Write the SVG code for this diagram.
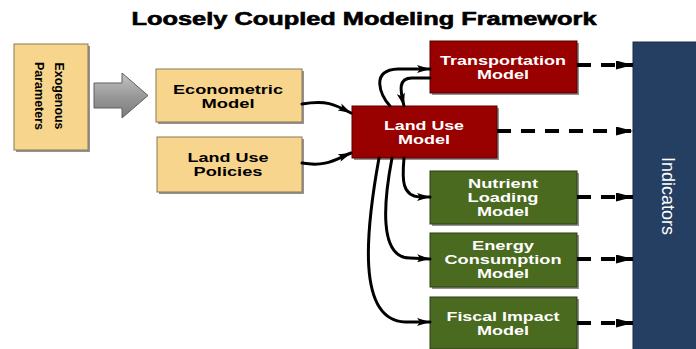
<svg xmlns="http://www.w3.org/2000/svg" width="696" height="349" viewBox="0 0 696 349">
  <defs>
    <style>
      .t { font-family: "Liberation Sans", Arial, sans-serif; font-weight: bold; font-size: 12.5px; text-anchor: middle; }
      .dk { fill: #000; }
      .lt { fill: #fff; }
      .shadow { fill: #3a3a3a; opacity: 0.55; }
      .tan { fill: #F8D58C; stroke: #8a7a55; stroke-width: 1; }
      .red { fill: #990000; stroke: #5a0000; stroke-width: 1; }
      .grn { fill: #4A6A1F; stroke: #2b3d12; stroke-width: 1; }
      .flow { fill: none; stroke: #000; stroke-width: 3; stroke-linecap: round; marker-end: url(#headS); }
      .dash { fill: none; stroke: #000; stroke-width: 4; stroke-dasharray: 14 10; marker-end: url(#headL); }
    </style>
    <marker id="headS" markerUnits="userSpaceOnUse" markerWidth="14" markerHeight="8" refX="13" refY="4" orient="auto">
      <path d="M0,0 L13,4 L0,8 L3,4 z" fill="#000"/>
    </marker>
    <marker id="headL" markerUnits="userSpaceOnUse" markerWidth="18" markerHeight="9" refX="17" refY="4.5" orient="auto">
      <path d="M0,0 L17,4.5 L0,9 z" fill="#000"/>
    </marker>
    <linearGradient id="arrowFill" x1="0" y1="0" x2="0" y2="1">
      <stop offset="0" stop-color="#c4c4c4"/>
      <stop offset="0.5" stop-color="#9a9a9a"/>
      <stop offset="1" stop-color="#7a7a7a"/>
    </linearGradient>
  </defs>

  <rect width="696" height="349" fill="#fff"/>

  <!-- heading -->
  <text x="364" y="25" font-family="'Liberation Sans', Arial, sans-serif" font-weight="bold" font-size="18" stroke="#000" stroke-width="0.6" text-anchor="middle" textLength="465" lengthAdjust="spacingAndGlyphs">Loosely Coupled Modeling Framework</text>

  <!-- indicators panel -->
  <g id="indicators">
    <rect x="633" y="42" width="66" height="310" fill="#243F61" stroke="#1a2d46" stroke-width="1"/>
    <text transform="translate(662,196) rotate(90)" font-family="'Liberation Sans', Arial, sans-serif" font-size="18" fill="#fff" text-anchor="middle">Indicators</text>
  </g>

  <!-- exogenous parameters -->
  <g id="exogenous">
    <rect class="shadow" x="16" y="46" width="74" height="106"/>
    <rect class="tan" x="14" y="44" width="74" height="106"/>
    <text class="t dk" font-size="14" transform="translate(55,96) rotate(90)" textLength="67" lengthAdjust="spacingAndGlyphs">Exogenous</text>
    <text class="t dk" font-size="14" transform="translate(35,96) rotate(90)" textLength="68" lengthAdjust="spacingAndGlyphs">Parameters</text>
  </g>

  <!-- block arrow -->
  <g id="feed-arrow">
    <path d="M94,83 L122,83 L122,73 L148,95.5 L122,118 L122,108 L94,108 z" fill="url(#arrowFill)" stroke="#5e5e5e" stroke-width="1"/>
  </g>

  <g id="econometric">
    <rect class="shadow" x="158" y="71" width="146" height="53"/>
    <rect class="tan" x="156" y="69" width="146" height="53"/>
    <text class="t dk" x="228" y="93.5" textLength="110" lengthAdjust="spacingAndGlyphs">Econometric</text>
    <text class="t dk" x="228" y="107.5" textLength="53" lengthAdjust="spacingAndGlyphs">Model</text>
  </g>

  <g id="policies">
    <rect class="shadow" x="159" y="139" width="145" height="55"/>
    <rect class="tan" x="157" y="137" width="145" height="55"/>
    <text class="t dk" x="228" y="161.5" textLength="81" lengthAdjust="spacingAndGlyphs">Land Use</text>
    <text class="t dk" x="228" y="175.5" textLength="69" lengthAdjust="spacingAndGlyphs">Policies</text>
  </g>

  <g id="land-use-model">
    <rect class="shadow" x="354" y="108" width="145" height="52"/>
    <rect class="red" x="352" y="106" width="145" height="52"/>
    <text class="t lt" x="424" y="129.5" textLength="80" lengthAdjust="spacingAndGlyphs">Land Use</text>
    <text class="t lt" x="424" y="143.5" textLength="52" lengthAdjust="spacingAndGlyphs">Model</text>
  </g>

  <g id="transportation">
    <rect class="shadow" x="432" y="43" width="147" height="52"/>
    <rect class="red" x="430" y="41" width="147" height="52"/>
    <text class="t lt" x="503" y="64.5" textLength="126" lengthAdjust="spacingAndGlyphs">Transportation</text>
    <text class="t lt" x="503" y="78.5" textLength="52" lengthAdjust="spacingAndGlyphs">Model</text>
  </g>

  <g id="nutrient">
    <rect class="shadow" x="432" y="173" width="147" height="53"/>
    <rect class="grn" x="430" y="171" width="147" height="53"/>
    <text class="t lt" x="503" y="188" textLength="70" lengthAdjust="spacingAndGlyphs">Nutrient</text>
    <text class="t lt" x="503" y="202" textLength="71" lengthAdjust="spacingAndGlyphs">Loading</text>
    <text class="t lt" x="503" y="216" textLength="52" lengthAdjust="spacingAndGlyphs">Model</text>
  </g>

  <g id="energy">
    <rect class="shadow" x="432" y="235" width="147" height="54"/>
    <rect class="grn" x="430" y="233" width="147" height="54"/>
    <text class="t lt" x="503" y="250" textLength="62" lengthAdjust="spacingAndGlyphs">Energy</text>
    <text class="t lt" x="503" y="264" textLength="117" lengthAdjust="spacingAndGlyphs">Consumption</text>
    <text class="t lt" x="503" y="278" textLength="52" lengthAdjust="spacingAndGlyphs">Model</text>
  </g>

  <g id="fiscal">
    <rect class="shadow" x="432" y="299" width="147" height="52"/>
    <rect class="grn" x="430" y="297" width="147" height="52"/>
    <text class="t lt" x="503" y="321" textLength="113" lengthAdjust="spacingAndGlyphs">Fiscal Impact</text>
    <text class="t lt" x="503" y="335" textLength="52" lengthAdjust="spacingAndGlyphs">Model</text>
  </g>

  <!-- connectors -->
  <g id="connectors">
    <path class="flow" d="M302,104 C326,100 334,104 351,113"/>
    <path class="flow" d="M302,163 C326,167 334,160 351,153"/>
    <path class="flow" d="M390,106 C380,95 370,70 398,69 L430,69"/>
    <path class="flow" d="M430,78 L412,78 C398,78 400,90 404,106"/>
    <path class="flow" d="M404,158 C402,180 402,196 420,197 L430,197"/>
    <path class="flow" d="M392,158 C384,200 378,258 410,258 L430,259"/>
    <path class="flow" d="M379,158 C366,230 356,320 405,322 L430,322"/>

    <path class="dash" d="M577,65 L633,65"/>
    <path class="dash" d="M497,131 L633,131"/>
    <path class="dash" d="M577,197 L633,197"/>
    <path class="dash" d="M577,259 L633,259"/>
    <path class="dash" d="M577,323 L633,323"/>
  </g>
</svg>
